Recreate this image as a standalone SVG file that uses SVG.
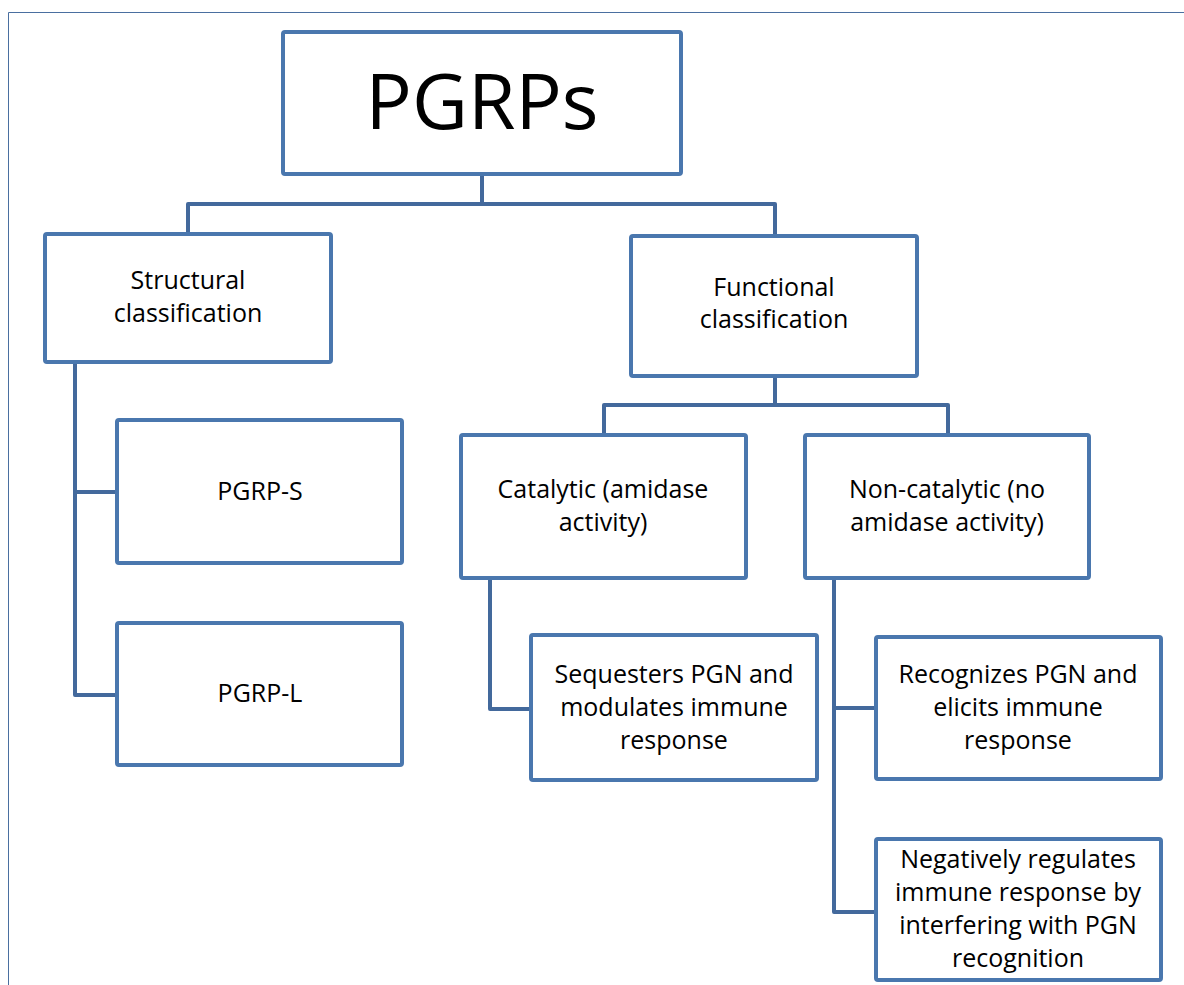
<svg xmlns="http://www.w3.org/2000/svg" width="1184" height="985" viewBox="0 0 1184 985">
<style>
.box{fill:#ffffff;stroke:#4a77ae;stroke-width:4}
.con{fill:none;stroke:#43699c;stroke-width:4;stroke-linejoin:round}
.t{font-family:"Open Sans","Liberation Sans",sans-serif;font-size:25px;fill:#000;text-anchor:middle}
.big{font-size:77px}
</style>
<rect width="1184" height="985" fill="#ffffff"/>
<path d="M8.5 985V12.5H1184" fill="none" stroke="#4a6fa0" stroke-width="1"/>
<g id="connectors">
<path class="con" d="M482 174V204M188 234V204H775V236"/>
<path class="con" d="M775 376V405M604 435V405H948V435"/>
<path class="con" d="M75 362V695H117M75 492H117"/>
<path class="con" d="M490 578V709H531"/>
<path class="con" d="M834 578V912H876M834 708H876"/>
</g>
<g id="pgrps"><rect class="box" x="283" y="32" width="398" height="142" rx="2"/><text class="t big" x="482" y="129">PGRPs</text></g>
<g id="structural"><rect class="box" x="45" y="234" width="286" height="128" rx="2"/><text class="t" x="188" y="289">Structural</text><text class="t" x="188" y="322">classification</text></g>
<g id="functional"><rect class="box" x="631" y="236" width="286" height="140" rx="2"/><text class="t" x="774" y="296">Functional</text><text class="t" x="774" y="328">classification</text></g>
<g id="pgrp-s"><rect class="box" x="117" y="420" width="285" height="143" rx="2"/><text class="t" x="260" y="500">PGRP-S</text></g>
<g id="pgrp-l"><rect class="box" x="117" y="623" width="285" height="142" rx="2"/><text class="t" x="260" y="702">PGRP-L</text></g>
<g id="catalytic"><rect class="box" x="461" y="435" width="285" height="143" rx="2"/><text class="t" x="603" y="498">Catalytic (amidase</text><text class="t" x="603" y="531">activity)</text></g>
<g id="noncatalytic"><rect class="box" x="805" y="435" width="284" height="143" rx="2"/><text class="t" x="947" y="498">Non-catalytic (no</text><text class="t" x="947" y="531">amidase activity)</text></g>
<g id="sequesters"><rect class="box" x="531" y="635" width="286" height="145" rx="2"/><text class="t" x="674" y="683">Sequesters PGN and</text><text class="t" x="674" y="716">modulates immune</text><text class="t" x="674" y="749">response</text></g>
<g id="recognizes"><rect class="box" x="876" y="637" width="285" height="142" rx="2"/><text class="t" x="1018" y="683">Recognizes PGN and</text><text class="t" x="1018" y="716">elicits immune</text><text class="t" x="1018" y="749">response</text></g>
<g id="negatively"><rect class="box" x="876" y="839" width="285" height="141" rx="2"/><text class="t" x="1018" y="868">Negatively regulates</text><text class="t" x="1018" y="901">immune response by</text><text class="t" x="1018" y="934">interfering with PGN</text><text class="t" x="1018" y="967">recognition</text></g>
</svg>
